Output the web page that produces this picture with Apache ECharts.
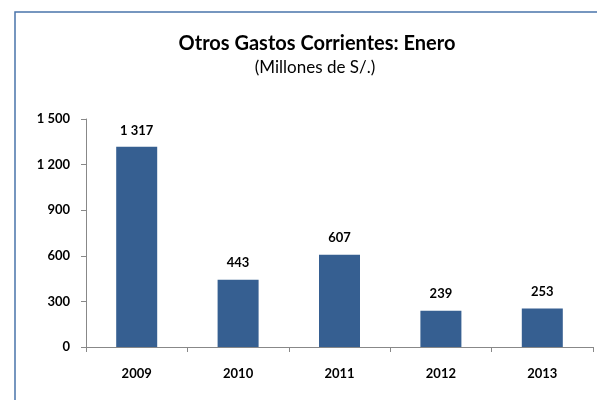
<!DOCTYPE html>
<html>
<head>
<meta charset="utf-8">
<script src="https://cdn.jsdelivr.net/npm/echarts@6/dist/echarts.min.js"></script>
<style>
  html, body { margin: 0; padding: 0; background: #fff; }
  #chart { width: 597px; height: 400px; }
</style>
</head>
<body>
<div id="chart"></div>
<script>
const years = ['2009', '2010', '2011', '2012', '2013'];
const gastos = [1317, 443, 607, 239, 253];
const yTicks = [0, 300, 600, 900, 1200, 1500];

const FONT = 'Lato, "Open Sans", sans-serif';

// separador de miles con espacio: 1317 -> "1 317"
function fmtMiles(v) {
  return String(v).replace(/\B(?=(\d{3})+(?!\d))/g, ' ');
}

const chart = echarts.init(document.getElementById('chart'));

const option = {
  animation: false,
  title: [
    {
      text: 'Otros Gastos Corrientes: Enero',
      left: 312, top: 29, textAlign: 'center',
      textStyle: { fontFamily: FONT, fontSize: 20, fontWeight: 'bold', color: '#000' }
    },
    {
      text: '(Millones de S/.)',
      left: 310, top: 54, textAlign: 'center',
      textStyle: { fontFamily: FONT, fontSize: 17, fontWeight: 'normal', color: '#000' }
    }
  ],
  graphic: [
    {
      type: 'rect',
      shape: { x: 15, y: 12, width: 700, height: 500 },
      style: { fill: 'none', stroke: '#4a74aa', lineWidth: 1.5 },
      silent: true
    }
  ],
  grid: { left: 86, right: 4, top: 119, bottom: 53 },
  xAxis: {
    type: 'category',
    data: years,
    axisLine: { lineStyle: { color: '#888', width: 1 } },
    axisTick: { show: true, length: 5, lineStyle: { color: '#888' } },
    axisLabel: {
      margin: 20, color: '#000', fontFamily: FONT, fontSize: 13, fontWeight: 'bold'
    }
  },
  yAxis: {
    type: 'value',
    min: yTicks[0],
    max: yTicks[yTicks.length - 1],
    interval: 300,
    splitLine: { show: false },
    axisLine: { show: true, lineStyle: { color: '#888', width: 1 } },
    axisTick: { show: true, length: 5, lineStyle: { color: '#888' } },
    axisLabel: {
      margin: 16, color: '#000', fontFamily: FONT, fontSize: 13, fontWeight: 'bold',
      formatter: v => fmtMiles(v)
    }
  },
  series: [
    {
      type: 'bar',
      data: gastos,
      barWidth: 41,
      itemStyle: { color: '#365f91' },
      label: {
        show: true,
        position: 'top',
        distance: 10,
        color: '#000',
        fontFamily: FONT,
        fontSize: 13,
        fontWeight: 'bold',
        formatter: p => fmtMiles(p.value)
      }
    }
  ]
};

chart.setOption(option);
</script>
</body>
</html>
